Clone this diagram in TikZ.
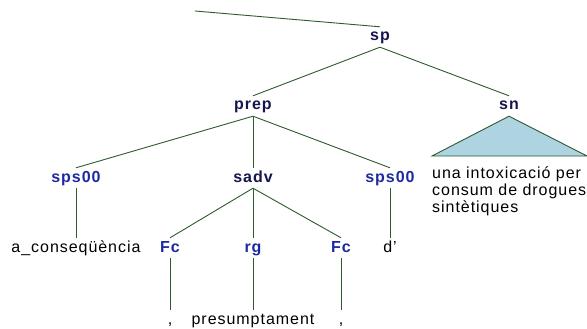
\documentclass[tikz,border=0pt]{standalone}
\usepackage{fontspec}
\setmainfont{Liberation Sans}[LetterSpace=6]
\usepackage{xcolor}
\definecolor{treeline}{HTML}{2E5A2E}
\definecolor{phrasecol}{HTML}{16164E}
\definecolor{tagcol}{HTML}{1C2AA0}
\definecolor{trifill}{HTML}{AED4E2}
\tikzset{
    lab/.style={font=\fontsize{16}{17}\selectfont, text height=11pt, text depth=3pt, inner sep=3pt},
    phrase/.style={lab, font=\fontsize{16}{17}\selectfont\bfseries, text=phrasecol},
    tag/.style={lab, font=\fontsize{16}{17}\selectfont\bfseries, text=tagcol},
    word/.style={lab},
    branch/.style={treeline, line width=0.9pt}
}

\begin{document}
\begin{tikzpicture}[x=1pt,y=-1pt]
        \useasboundingbox (0,0) rectangle (587,329);

        % phrase level
        \coordinate (top) at (195,11);
        \node[phrase] (sp) at (380,37) {sp};
        \node[phrase] (prep) at (253,106) {prep};
        \node[phrase] (sn) at (509,106) {sn};

        \node[tag] (spsL) at (76,178) {sps00};
        \node[phrase] (sadv) at (253,178) {sadv};
        \node[tag] (spsR) at (390,178) {sps00};

        % second row
        \node[word] (cons) at (76,248) {a\_conseqüència};
        \node[tag] (fcL) at (170,248) {Fc};
        \node[tag] (rg) at (253,248) {rg};
        \node[tag] (fcR) at (341,248) {Fc};
        \node[word] (d) at (390,248) {d’};

        % words
        \node[word] (commaL) at (170,320) {,};
        \node[word] (presu) at (253,320) {presumptament};
        \node[word] (commaR) at (341,320) {,};

        \draw[branch] (top) -- (sp.north);
        \draw[branch] (sp.south) -- (prep.north);
        \draw[branch] (sp.south) -- (sn.north);
        \foreach \n in {spsL,sadv,spsR} {
            \draw[branch] (prep.south) -- (\n.north);
        }
        \foreach \n in {fcL,rg,fcR} {
            \draw[branch] (sadv.south) -- (\n.north);
        }
        \draw[branch] (spsL.south) -- (cons.north);
        \draw[branch] (spsR.south) -- (d.north);
        \draw[branch] (fcL.south) -- (commaL.north);
        \draw[branch] (rg.south) -- (presu.north);
        \draw[branch] (fcR.south) -- (commaR.north);

        % triangle for sn
        \coordinate (triL) at (432,156);
        \coordinate (triR) at (587,156);
        \draw[branch, fill=trifill] (sn.south) -- (triR) -- (triL) -- cycle;
        \node[anchor=north west, inner sep=0pt, align=left, font=\fontsize{16}{17}\selectfont] (snwords) at (432,167)
            {una intoxicació per\\consum de drogues\\sintètiques};
    \end{tikzpicture}
\end{document}
